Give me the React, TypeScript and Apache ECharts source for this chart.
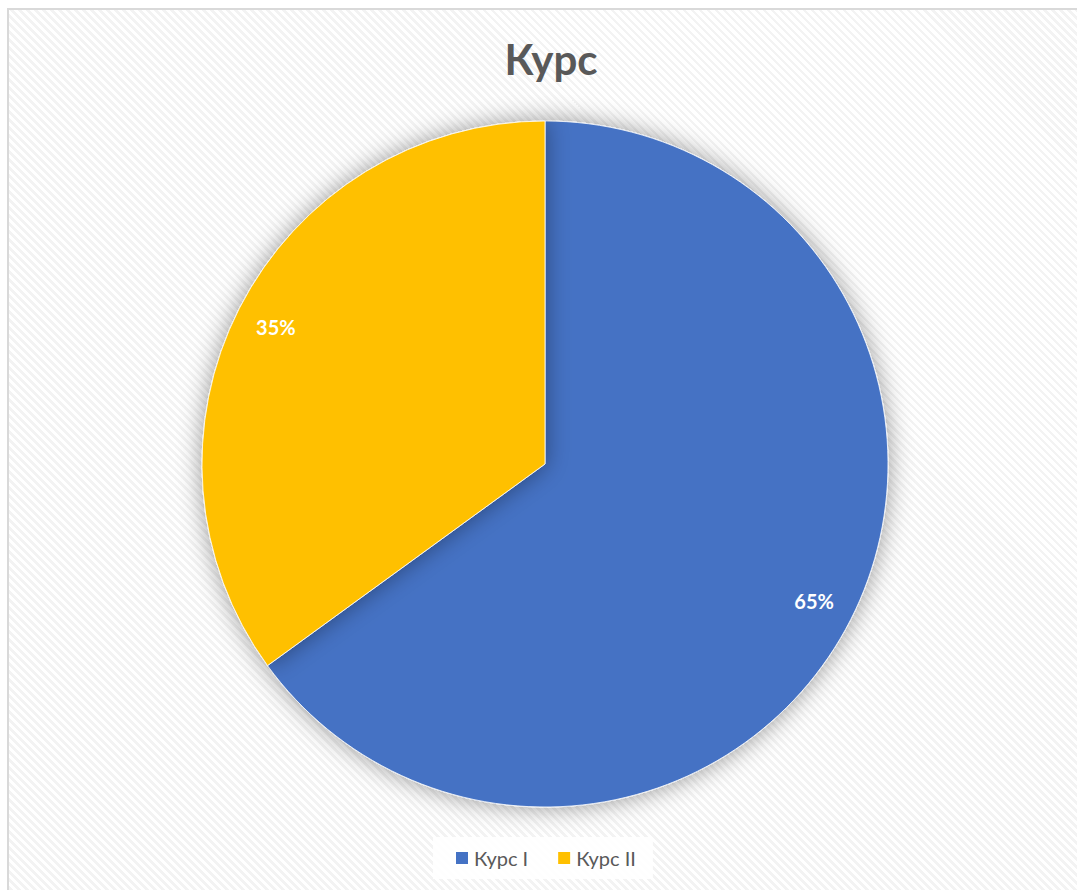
import React, { useEffect, useRef } from "react";
import * as echarts from "echarts";

const title = "Курс";
const categories = ["Курс I", "Курс II"];
const values = [65, 35];
const colors = ["#4472C4", "#FFC000"];

export default function App() {
  const ref = useRef<HTMLDivElement>(null);
  useEffect(() => {
    document.body.style.margin = "0";
    document.body.style.overflow = "hidden";
    const chart = echarts.init(ref.current!, undefined, { renderer: "svg" });
    const data = categories.map((name, i) => ({ name, value: values[i] }));
    chart.setOption({
      animation: false,
      color: colors,
      title: {
        text: title,
        left: 546,
        top: 33,
        textAlign: "center",
        textStyle: {
          fontFamily: "Lato",
          fontWeight: "bold",
          fontSize: 42,
          color: "#595959",
        },
      },
      legend: {
        data: categories,
        left: 433,
        top: 837,
        itemWidth: 14,
        itemHeight: 14,
        itemGap: 28,
        icon: "rect",
        padding: [11, 17, 11, 21],
        backgroundColor: "rgba(255,255,255,0.85)",
        textStyle: { fontFamily: "Lato", fontSize: 20, color: "#595959" },
      },
      series: [
        {
          type: "pie",
          center: [545, 464],
          radius: [0, 343],
          startAngle: 90,
          clockwise: true,
          data,
          label: { show: false },
          labelLine: { show: false },
          itemStyle: {
            borderColor: "#ffffff",
            borderWidth: 0.8,
            shadowBlur: 24,
            shadowColor: "rgba(0,0,0,0.4)",
          },
          emphasis: { disabled: true },
          silent: true,
        },
        {
          type: "pie",
          center: [545, 464],
          radius: [255, 343],
          startAngle: 90,
          clockwise: true,
          data,
          itemStyle: { color: "rgba(0,0,0,0)" },
          label: {
            show: true,
            position: "inside",
            formatter: "{d}%",
            color: "#ffffff",
            fontFamily: "Lato",
            fontWeight: "bold",
            fontSize: 20,
          },
          labelLine: { show: false },
          emphasis: { disabled: true },
          silent: true,
        },
      ],
    });
    return () => chart.dispose();
  }, []);
  return (
    <div
      style={{
        position: "fixed",
        left: 0,
        top: 0,
        width: 1077,
        height: 890,
        overflow: "hidden",
        background: "#ffffff",
      }}
    >
      <div
        style={{
          position: "absolute",
          left: 7,
          top: 8,
          width: 1100,
          height: 900,
          borderLeft: "2px solid #d9d9d9",
          borderTop: "2px solid #d9d9d9",
          background:
            "repeating-linear-gradient(45deg, #ffffff 0px, #ffffff 3px, #f3f3f3 3px, #f3f3f3 5.66px)",
        }}
      />
      <div
        ref={ref}
        style={{ position: "absolute", left: 0, top: 0, width: 1077, height: 890 }}
      />
    </div>
  );
}
